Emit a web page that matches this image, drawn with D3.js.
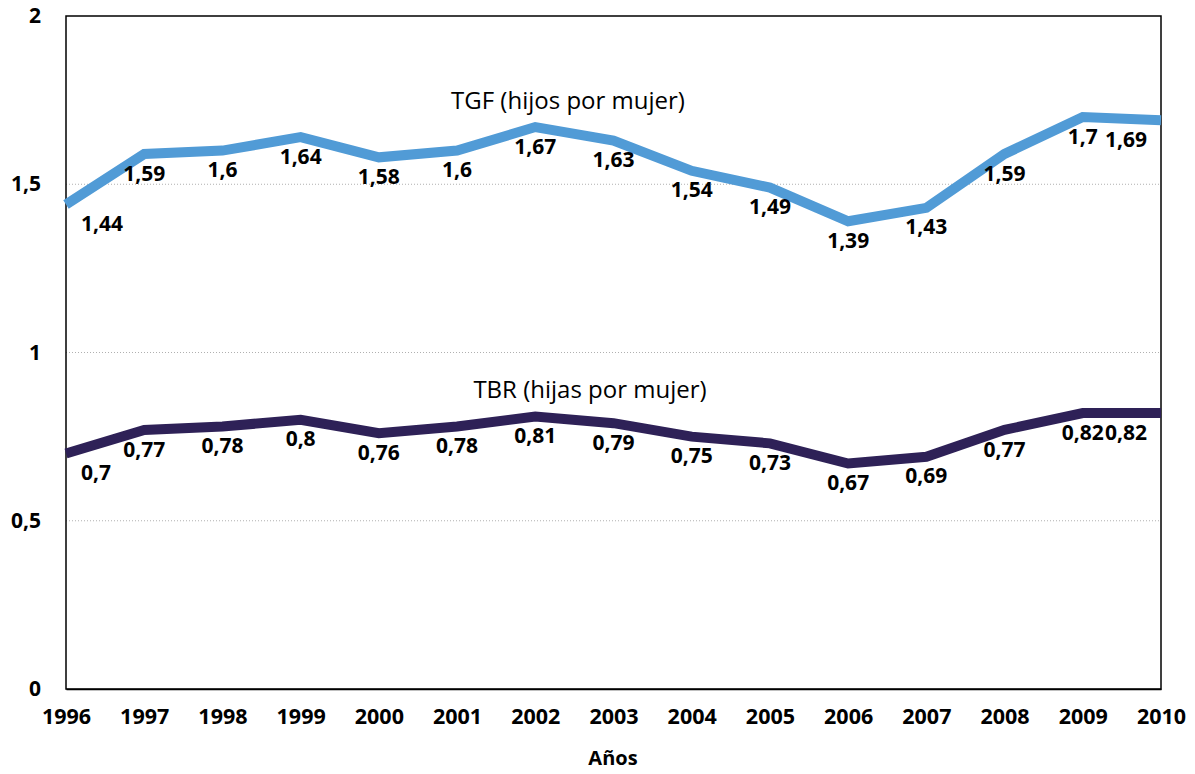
<!DOCTYPE html>
<html><head><meta charset="utf-8">
<script src="https://cdn.jsdelivr.net/npm/d3@7"></script>
<style>body{margin:0;background:#fff}svg{display:block}text{font-family:"Open Sans",sans-serif}</style>
</head><body><svg id="c" width="1195" height="774"></svg>
<script>
const years = [1996,1997,1998,1999,2000,2001,2002,2003,2004,2005,2006,2007,2008,2009,2010];
const tgf = [1.44,1.59,1.6,1.64,1.58,1.6,1.67,1.63,1.54,1.49,1.39,1.43,1.59,1.7,1.69];
const tbr = [0.7,0.77,0.78,0.8,0.76,0.78,0.81,0.79,0.75,0.73,0.67,0.69,0.77,0.82,0.82];
const yTicks = [0,0.5,1,1.5,2];
const seriesNames = ["TGF (hijos por mujer)","TBR (hijas por mujer)"];
const xTitle = "Años";

const svg = d3.select("#c");
const L=66,R=1161,T=16,B=689;
const x = d3.scaleLinear().domain([1996,2010]).range([L,R]);
const y = d3.scaleLinear().domain([0,2]).range([B,T]);
const fmt = v => String(v).replace(".", ",");

// gridlines
svg.append("g").selectAll("line").data(yTicks.filter(t=>t>0&&t<2)).join("line")
  .attr("x1",L).attr("x2",R).attr("y1",d=>y(d)).attr("y2",d=>y(d))
  .attr("stroke","#b0b0b0").attr("stroke-width",1).attr("stroke-dasharray","1,2");

// frame
svg.append("rect").attr("x",L).attr("y",T).attr("width",R-L).attr("height",B-T)
  .attr("fill","none").attr("stroke","#000").attr("stroke-width",1.5);

// y axis
const ya = svg.append("g").attr("transform",`translate(${L},0)`)
  .call(d3.axisLeft(y).tickValues(yTicks).tickSize(0).tickPadding(25).tickFormat(fmt));
ya.select(".domain").remove();
ya.selectAll("text").attr("font-size",21).attr("font-weight",700).attr("fill","#000")
  .attr("font-family","'Open Sans',sans-serif");

// x axis
const xa = svg.append("g").attr("transform",`translate(0,${B})`)
  .call(d3.axisBottom(x).tickValues(years).tickSize(0).tickPadding(20).tickFormat(d3.format("d")));
xa.select(".domain").attr("stroke","#000").attr("stroke-width",1.5);
xa.selectAll("text").attr("font-size",21.5).attr("font-weight",700).attr("fill","#000")
  .attr("font-family","'Open Sans',sans-serif");

svg.append("text").attr("x",613).attr("y",760).attr("text-anchor","middle")
  .attr("dominant-baseline","middle").attr("font-size",20).attr("font-weight",700).text(xTitle);

const line = d3.line().x((d,i)=>x(years[i])).y(d=>y(d));
const series = [{v:tgf,c:"#519bd6"},{v:tbr,c:"#2e2157"}];
series.forEach(s=>{
  svg.append("path").datum(s.v).attr("d",line).attr("fill","none")
    .attr("stroke",s.c).attr("stroke-width",10).attr("stroke-linejoin","miter");
  svg.append("g").selectAll("text").data(s.v).join("text")
    .attr("x",(d,i)=> i===0 ? x(years[i])+15 : i===years.length-1 ? x(years[i])-14 : x(years[i]))
    .attr("y",d=>y(d)+21)
    .attr("text-anchor",(d,i)=> i===0 ? "start" : i===years.length-1 ? "end" : "middle")
    .attr("dominant-baseline","middle")
    .attr("font-size",21).attr("font-weight",700).attr("fill","#000")
    .text(fmt);
});

svg.append("text").attr("x",568).attr("y",103).attr("text-anchor","middle")
  .attr("dominant-baseline","middle").attr("font-size",24).text(seriesNames[0]);
svg.append("text").attr("x",590).attr("y",392).attr("text-anchor","middle")
  .attr("dominant-baseline","middle").attr("font-size",24).text(seriesNames[1]);
</script></body></html>
